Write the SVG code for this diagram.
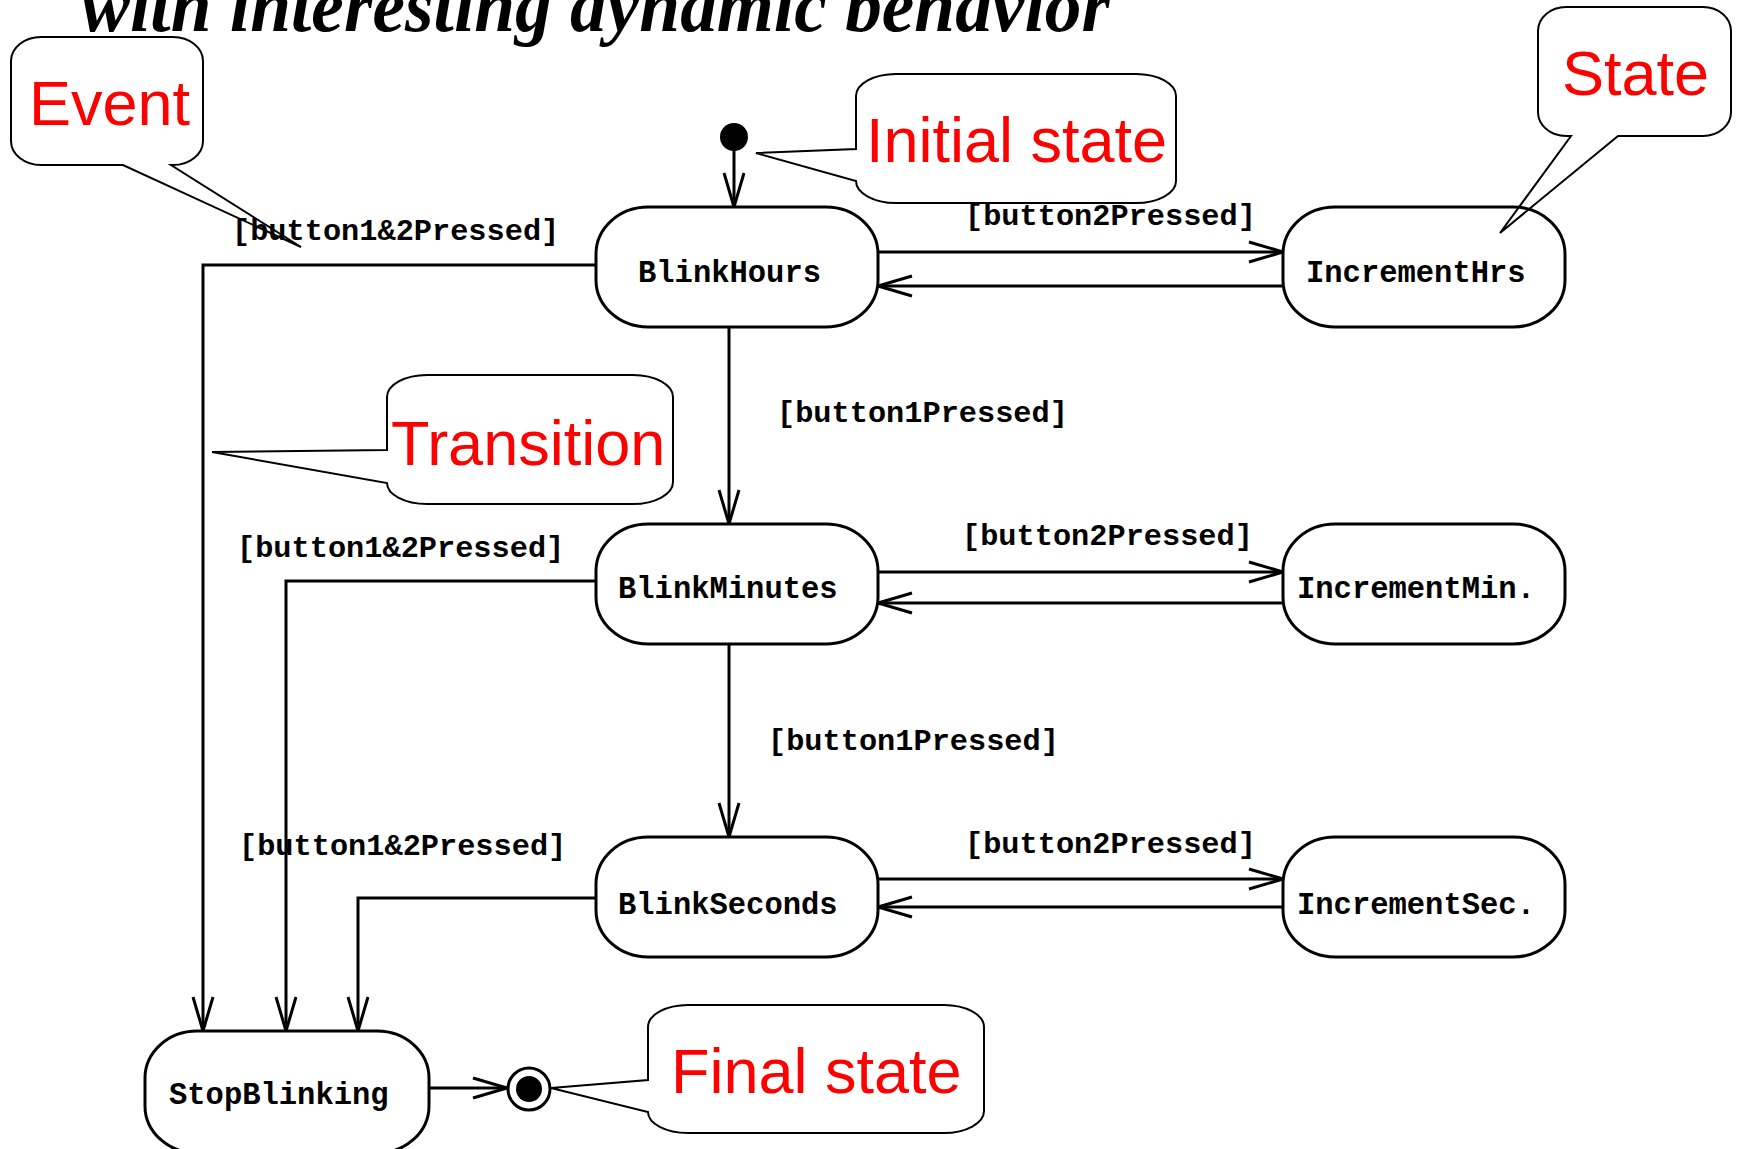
<svg xmlns="http://www.w3.org/2000/svg" width="1737" height="1149" viewBox="0 0 1737 1149">
<style>
.node{fill:#fff;stroke:#000;stroke-width:3}
.nt{font-family:"Liberation Mono","Courier New",monospace;font-weight:bold;font-size:30.5px;fill:#000}
.lbl{font-family:"Liberation Mono","Courier New",monospace;font-weight:bold;font-size:30.3px;fill:#000}
.edge{fill:none;stroke:#000;stroke-width:3;marker-end:url(#arr)}
.call{fill:none;stroke:#000;stroke-width:2}
.ct{font-family:"Liberation Sans",Arial,sans-serif;font-size:63px;fill:#ff0000}
.title{font-family:"Liberation Serif","Times New Roman",serif;font-weight:bold;font-style:italic;font-size:76px;fill:#000}
</style>
<defs>
<marker id="arr" viewBox="-2 -12 38 24" refX="34" refY="0" markerWidth="38" markerHeight="24" markerUnits="userSpaceOnUse" orient="auto">
<path d="M0,-10 L34,0 L0,10" fill="none" stroke="#000" stroke-width="3"/>
</marker>
</defs>
<rect width="1737" height="1149" fill="#fff"/>
<text class="title" x="81" y="31" textLength="1029" lengthAdjust="spacingAndGlyphs">with interesting dynamic behavior</text>

<g id="connectors">
<path class="edge" d="M734,150 V207"/>
<path class="edge" d="M878,252 H1283"/>
<path class="edge" d="M1283,286 H878"/>
<path class="edge" d="M596,265 H203 V1031"/>
<path class="edge" d="M729,327 V524"/>
<path class="edge" d="M878,572 H1283"/>
<path class="edge" d="M1283,603 H878"/>
<path class="edge" d="M596,581 H286 V1031"/>
<path class="edge" d="M729,644 V837"/>
<path class="edge" d="M878,879 H1283"/>
<path class="edge" d="M1283,907 H878"/>
<path class="edge" d="M596,898 H358 V1031"/>
<path class="edge" d="M429,1088 H507"/>
<text class="lbl" x="232" y="240">[button1&amp;2Pressed]</text>
<text class="lbl" x="965" y="225">[button2Pressed]</text>
<text class="lbl" x="777" y="422">[button1Pressed]</text>
<text class="lbl" x="237" y="557">[button1&amp;2Pressed]</text>
<text class="lbl" x="962" y="545">[button2Pressed]</text>
<text class="lbl" x="768" y="750">[button1Pressed]</text>
<text class="lbl" x="239" y="855">[button1&amp;2Pressed]</text>
<text class="lbl" x="965" y="853">[button2Pressed]</text>
</g>

<g id="initial"><circle cx="734" cy="137" r="14" fill="#000"/></g>
<g id="BlinkHours"><rect class="node" x="596" y="207" width="282" height="120" rx="52" ry="47"/><text class="nt" x="638" y="282">BlinkHours</text></g>
<g id="IncrementHrs"><rect class="node" x="1283" y="207" width="282" height="120" rx="52" ry="47"/><text class="nt" x="1306" y="282">IncrementHrs</text></g>
<g id="BlinkMinutes"><rect class="node" x="596" y="524" width="282" height="120" rx="52" ry="47"/><text class="nt" x="618" y="598">BlinkMinutes</text></g>
<g id="IncrementMin"><rect class="node" x="1283" y="524" width="282" height="120" rx="52" ry="47"/><text class="nt" x="1297" y="598">IncrementMin.</text></g>
<g id="BlinkSeconds"><rect class="node" x="596" y="837" width="282" height="120" rx="52" ry="47"/><text class="nt" x="618" y="914">BlinkSeconds</text></g>
<g id="IncrementSec"><rect class="node" x="1283" y="837" width="282" height="120" rx="52" ry="47"/><text class="nt" x="1297" y="914">IncrementSec.</text></g>
<g id="StopBlinking"><rect class="node" x="145" y="1031" width="284" height="122" rx="52" ry="47"/><text class="nt" x="169" y="1104">StopBlinking</text></g>
<g id="final"><circle cx="529" cy="1089" r="21" fill="#fff" stroke="#000" stroke-width="3"/><circle cx="529" cy="1089" r="13" fill="#000"/></g>

<g id="note-event"><path class="call" d="M41,37 H173 A30,24 0 0 1 203,61 V141 A30,24 0 0 1 173,165 H171 L301,247 L123,165 H41 A30,24 0 0 1 11,141 V61 A30,24 0 0 1 41,37 Z"/><text class="ct" x="29" y="125">Event</text></g>
<g id="note-initial"><path class="call" d="M896,74 H1136 A40,22 0 0 1 1176,96 V181 A40,22 0 0 1 1136,203 H896 A40,22 0 0 1 856,181 L756,153 L856,149 V96 A40,22 0 0 1 896,74 Z"/><text class="ct" x="866" y="162">Initial state</text></g>
<g id="note-state"><path class="call" d="M1566,7 H1703 A28,24 0 0 1 1731,31 V112 A28,24 0 0 1 1703,136 H1618 L1500,233 L1571,136 H1566 A28,24 0 0 1 1538,112 V31 A28,24 0 0 1 1566,7 Z"/><text class="ct" x="1562" y="95">State</text></g>
<g id="note-transition"><path class="call" d="M427,375 H633 A40,22 0 0 1 673,397 V482 A40,22 0 0 1 633,504 H427 A40,21 0 0 1 387,483 L212,452 L387,450 V397 A40,22 0 0 1 427,375 Z"/><text class="ct" x="391" y="465">Transition</text></g>
<g id="note-final"><path class="call" d="M688,1005 H944 A40,22 0 0 1 984,1027 V1111 A40,22 0 0 1 944,1133 H688 A40,21 0 0 1 648,1112 L551,1088 L648,1080 V1027 A40,22 0 0 1 688,1005 Z"/><text class="ct" x="671" y="1093">Final state</text></g>
</svg>
